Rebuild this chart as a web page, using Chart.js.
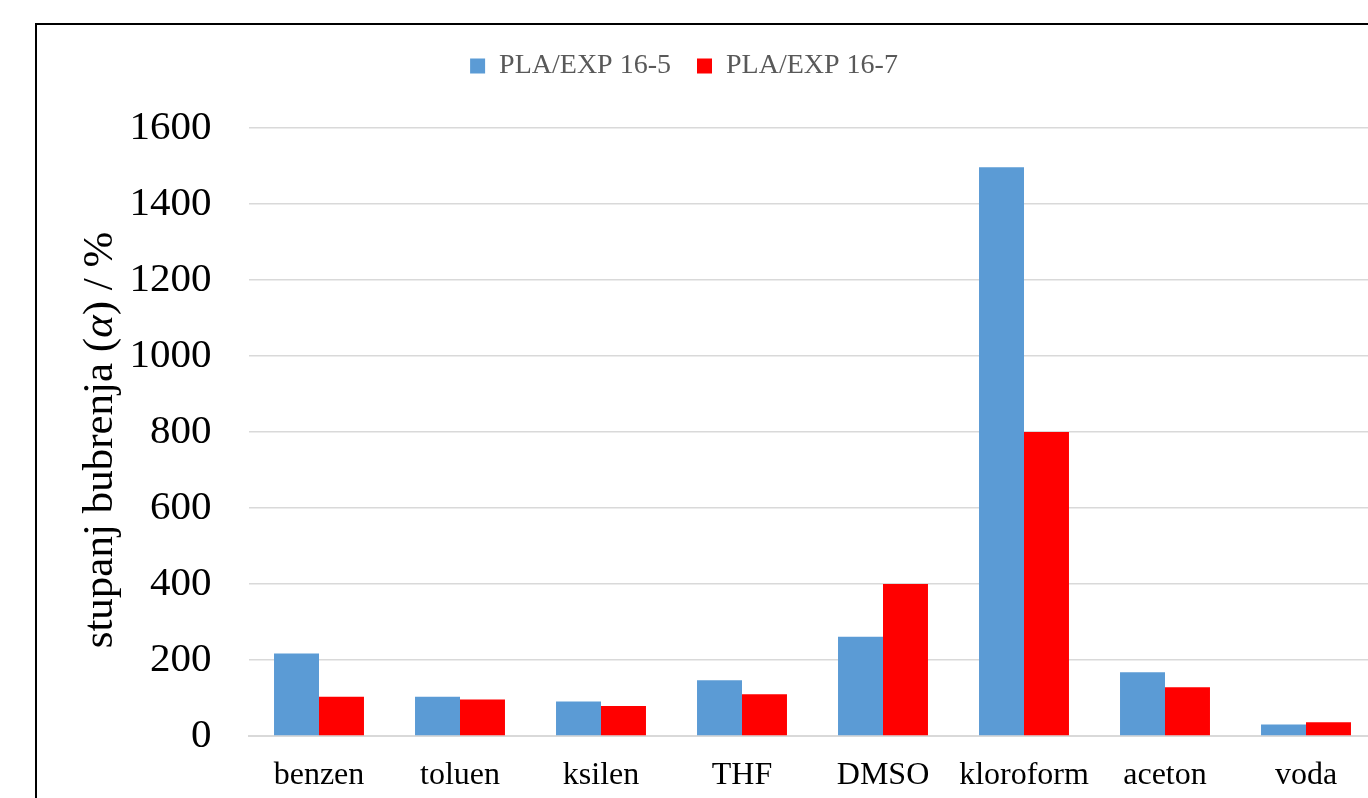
<!DOCTYPE html>
<html>
<head>
<meta charset="utf-8">
<script src="https://cdn.jsdelivr.net/npm/chart.js@4/dist/chart.umd.min.js"></script>
<style>
  html, body { margin: 0; padding: 0; background: #fff; overflow: hidden; width: 1368px; height: 798px; }
  #frame { position: absolute; left: 35px; top: 23px; width: 1400px; height: 820px; border: 2px solid #000; box-sizing: border-box; pointer-events: none; }
  #c { position: absolute; left: -20px; top: 0; }
</style>
</head>
<body>
<canvas id="c" width="1420" height="798"></canvas>
<div id="frame"></div>
<script>
const categories = ['benzen', 'toluen', 'ksilen', 'THF', 'DMSO', 'kloroform', 'aceton', 'voda'];
const seriesNames = ['PLA/EXP 16-5', 'PLA/EXP 16-7'];
const series165 = [217, 103, 91, 147, 261, 1497, 168, 30];
const series167 = [103, 96, 79, 110, 400, 800, 128, 36];
const yTicks = [0, 200, 400, 600, 800, 1000, 1200, 1400, 1600];
const yTitleParts = [['stupanj bubrenja (', false], ['α', true], [') / %', false]];

const FONT = '"Liberation Serif", "Times New Roman", serif';

const yTitlePlugin = {
  id: 'yTitle',
  afterInit(chart) {
    const lg = chart.legend;
    if (lg) {
      const orig = lg.fit.bind(lg);
      lg.fit = function () { orig(); this.height = 102; };
    }
  },
  afterDraw(chart) {
    const ctx = chart.ctx;
    ctx.save();
    const size = 43;
    const f = yTitleParts.map(p => (p[1] ? 'italic ' : '') + size + 'px ' + FONT);
    let total = 0;
    const widths = yTitleParts.map((p, i) => { ctx.font = f[i]; const w = ctx.measureText(p[0]).width; total += w; return w; });
    ctx.translate(121, 440);
    ctx.rotate(-Math.PI / 2);
    ctx.fillStyle = '#000';
    ctx.textBaseline = 'middle';
    ctx.textAlign = 'left';
    let x = -total / 2;
    yTitleParts.forEach((p, i) => { ctx.font = f[i]; ctx.fillText(p[0], x, 0); x += widths[i]; });
    ctx.restore();
  }
};

new Chart(document.getElementById('c'), {
  type: 'bar',
  data: {
    labels: categories,
    datasets: [
      { label: seriesNames[0], data: series165, backgroundColor: '#5B9BD5', borderWidth: 0 },
      { label: seriesNames[1], data: series167, backgroundColor: '#FF0000', borderWidth: 0 }
    ]
  },
  options: {
    responsive: false,
    animation: false,
    devicePixelRatio: 1,
    layout: { padding: { left: 11.5, right: 23.5, top: 26, bottom: 0 } },
    datasets: { bar: { categoryPercentage: 0.638, barPercentage: 1.0 } },
    plugins: {
      legend: {
        position: 'top',
        labels: {
          boxWidth: 15, boxHeight: 15, padding: 26,
          color: '#595959',
          font: { family: FONT, size: 28 }
        }
      },
      tooltip: { enabled: false },
      title: { display: false }
    },
    scales: {
      x: {
        grid: { display: false, drawTicks: false },
        border: { display: true, color: '#d9d9d9', width: 2 },
        ticks: { color: '#000', padding: 20, font: { family: FONT, size: 32 }, maxRotation: 0, autoSkip: false },
        afterFit(scale) { scale.height = 62; }
      },
      y: {
        min: 0, max: 1600,
        afterBuildTicks(scale) { scale.ticks = yTicks.map(v => ({ value: v })); },
        grid: { color: '#d9d9d9', lineWidth: 1.5, drawTicks: false },
        border: { display: false },
        ticks: { color: '#000', padding: 37, font: { family: FONT, size: 41 }, callback: v => String(v) },
        afterFit(scale) { scale.width = 257; }
      }
    }
  },
  plugins: [yTitlePlugin]
});
</script>
</body>
</html>
